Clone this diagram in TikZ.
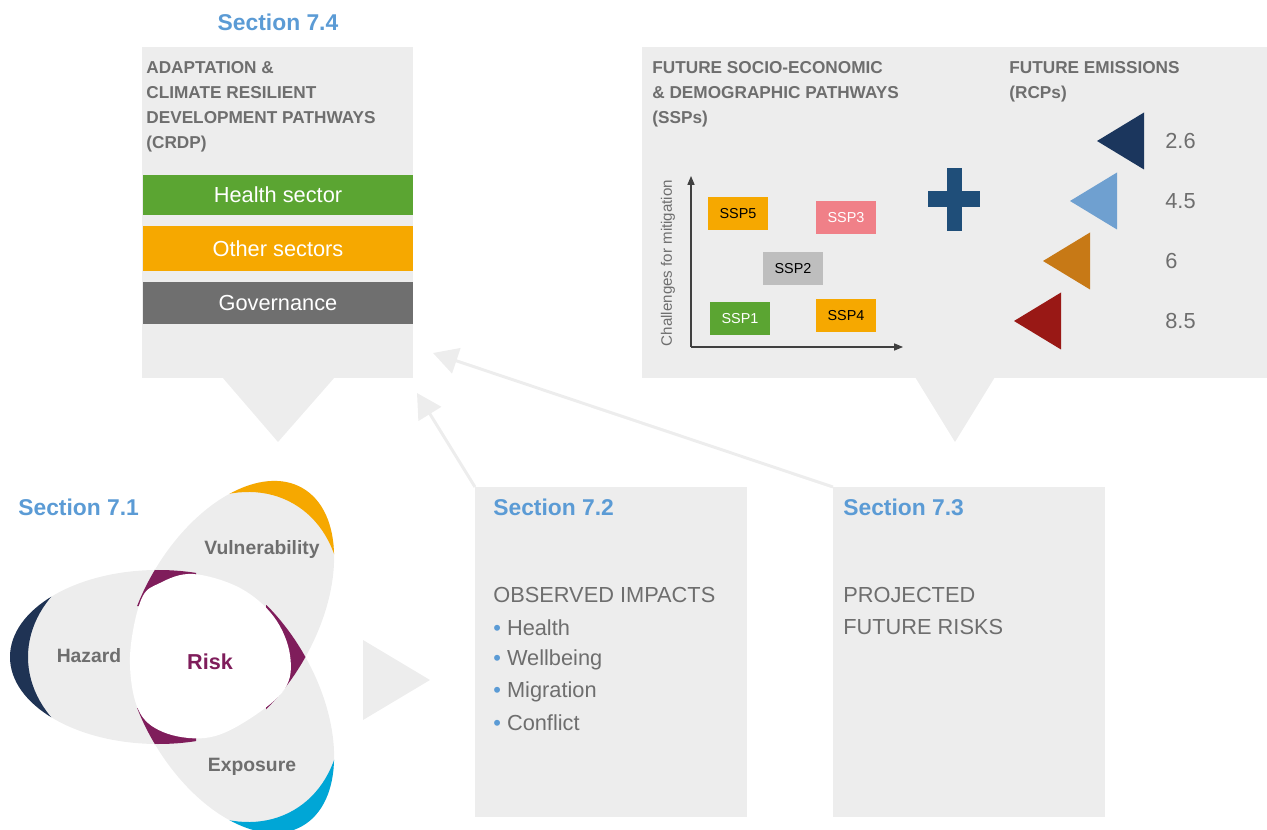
\documentclass[tikz,border=0pt]{standalone}
\usepackage{fontspec}
\setmainfont{Liberation Sans}
\usetikzlibrary{arrows.meta}

\definecolor{boxgray}{HTML}{EDEDED}
\definecolor{secblue}{HTML}{5B9BD5}
\definecolor{txtgray}{HTML}{6E6E6E}
\definecolor{hsgreen}{HTML}{5BA532}
\definecolor{osorange}{HTML}{F6A800}
\definecolor{govgray}{HTML}{6F6F6F}
\definecolor{sspthree}{HTML}{F08088}
\definecolor{ssptwo}{HTML}{BEBEBE}
\definecolor{plusblue}{HTML}{1F4E79}
\definecolor{rcpa}{HTML}{1B365D}
\definecolor{rcpb}{HTML}{6FA0D0}
\definecolor{rcpc}{HTML}{C77916}
\definecolor{rcpd}{HTML}{991815}
\definecolor{hznavy}{HTML}{1F3354}
\definecolor{vlorange}{HTML}{F6A800}
\definecolor{excyan}{HTML}{00A6D6}
\definecolor{riskpurple}{HTML}{7F1D5B}

\tikzset{
  panel/.style={fill=boxgray,inner sep=0pt,anchor=north west},
  secttl/.style={font=\fontsize{13}{15}\selectfont\bfseries,text=secblue,inner sep=0pt},
  caps/.style={font=\fontsize{9.8}{14.2}\selectfont\bfseries,text=txtgray,align=left,inner sep=0pt,anchor=north west},
  bar/.style={minimum width=5.42cm,inner sep=0pt,text=white,font=\fontsize{12.4}{14}\selectfont},
  body/.style={font=\fontsize{12.4}{14}\selectfont,text=txtgray,inner sep=0pt,anchor=west},
  ssp/.style={minimum width=1.2cm,minimum height=0.66cm,inner sep=0pt,font=\fontsize{8.2}{10}\selectfont},
  lobe/.style={font=\fontsize{11}{13}\selectfont\bfseries,text=txtgray,inner sep=0pt},
  flow/.style={draw=boxgray,line width=1.7pt,-{Triangle[length=14pt,width=15pt]}},
  axis/.style={draw=black!75,line width=0.6pt,-{Triangle[length=5pt,width=4pt]}},
  petal/.style={shift={(205,657)},rotate=#1},
}

\begin{document}
\begin{tikzpicture}[x=0.02cm,y=-0.02cm]
\useasboundingbox (0,0) rectangle (1267,830);

\node[panel,minimum width=5.42cm,minimum height=6.62cm] (crdp) at (142,47) {};
\fill[boxgray] (222,377) -- (335,377) -- (278,442) -- cycle;
\node[panel,minimum width=12.5cm,minimum height=6.62cm] (futures) at (642,47) {};
\fill[boxgray] (915,377) -- (995,377) -- (955,442) -- cycle;
\node[panel,minimum width=5.44cm,minimum height=6.6cm] (observed) at (475,487) {};
\node[panel,minimum width=5.44cm,minimum height=6.6cm] (projected) at (833,487) {};
\fill[boxgray] (363,640) -- (363,720) -- (430,680) -- cycle;

\node[secttl] (sec74) at (278,22) {Section 7.4};
\node[secttl,anchor=west] (sec71) at (18,507) {Section 7.1};
\node[secttl,anchor=west] (sec72) at (493,507) {Section 7.2};
\node[secttl,anchor=west] (sec73) at (843,507) {Section 7.3};

\node[caps] (crdptxt) at (146,61) {ADAPTATION \&\\CLIMATE RESILIENT\\DEVELOPMENT PATHWAYS\\(CRDP)};
\node[bar,fill=hsgreen,minimum height=0.8cm] (health) at (278,195) {Health sector};
\node[bar,fill=osorange,minimum height=0.9cm] (other) at (278,248.5) {Other sectors};
\node[bar,fill=govgray,minimum height=0.84cm] (gov) at (278,303) {Governance};

\node[caps] (ssptxt) at (652,61) {FUTURE SOCIO-ECONOMIC\\\& DEMOGRAPHIC PATHWAYS\\(SSPs)};
\node[caps] (rcptxt) at (1009,61) {FUTURE EMISSIONS\\(RCPs)};

\coordinate (origin) at (691,347);
\coordinate (ytop) at (691,176);
\coordinate (xend) at (903,347);
\draw[axis] (origin) -- (ytop);
\draw[axis] (origin) -- (xend);
\node[rotate=90,text=txtgray,font=\fontsize{8.6}{10}\selectfont,inner sep=0pt] (ylab) at (668,263) {Challenges for mitigation};
\node[ssp,fill=osorange] (ssp5) at (738,214) {SSP5};
\node[ssp,fill=sspthree,text=white] (ssp3) at (846,218) {SSP3};
\node[ssp,fill=ssptwo] (ssp2) at (793,269) {SSP2};
\node[ssp,fill=hsgreen,text=white] (ssp1) at (740,319) {SSP1};
\node[ssp,fill=osorange] (ssp4) at (846,316) {SSP4};

\fill[plusblue] (928,191) rectangle (980,207);
\fill[plusblue] (947,168) rectangle (962,231);

\foreach \tip/\y/\col/\val in {1097/141/rcpa/2.6,1070/201/rcpb/4.5,1043/261/rcpc/6,1014/321/rcpd/8.5} {
  \fill[\col] (\tip,\y) -- (\tip+47,\y-28.5) -- (\tip+47,\y+28.5) -- cycle;
  \node[body] at (1165,\y) {\val};
}

\node[body] (obs) at (493,595) {OBSERVED IMPACTS};
\foreach \y/\txt in {628/Health,660/Wellbeing,692/Migration,723/Conflict}
  \node[body] at (493,\y) {\textcolor{secblue}{\textbullet} \txt};
\node[body] (proj1) at (843,595) {PROJECTED};
\node[body] (proj2) at (843,627) {FUTURE RISKS};

\coordinate (crdpin1) at (417,393);
\coordinate (crdpin2) at (433,353);
\draw[flow] (observed.north west) -- (crdpin1);
\draw[flow] (projected.north west) -- (crdpin2);

% hazard, vulnerability, exposure
\foreach \ang in {180,60,-60}
  \fill[boxgray,petal=\ang] (47,0) ellipse [x radius=148,y radius=87];
\foreach \ang/\col in {180/hznavy,60/vlorange,-60/excyan} {
  \begin{scope}[petal=\ang]
    \clip (47,0) ellipse [x radius=148,y radius=87];
    \fill[\col,even odd rule] (-150,-150) rectangle (250,150) (29,0) ellipse [x radius=148,y radius=112];
  \end{scope}
}
\begin{scope}
  \clip (125,558) -- (196,558) -- (196,578) -- (145,606) -- (125,606) -- cycle;
  \clip[petal=180] (47,0) ellipse [x radius=148,y radius=87];
  \fill[riskpurple,petal=60] (47,0) ellipse [x radius=148,y radius=87];
\end{scope}
\begin{scope}
  \clip (266,605) rectangle (330,710);
  \clip[petal=60] (47,0) ellipse [x radius=148,y radius=87];
  \fill[riskpurple,petal=-60] (47,0) ellipse [x radius=148,y radius=87];
\end{scope}
\begin{scope}
  \clip (125,756) -- (196,756) -- (196,736) -- (145,708) -- (125,708) -- cycle;
  \clip[petal=-60] (47,0) ellipse [x radius=148,y radius=87];
  \fill[riskpurple,petal=180] (47,0) ellipse [x radius=148,y radius=87];
\end{scope}
\fill[white] plot[smooth cycle,tension=0.6] coordinates {(193,574) (240,588) (274,617) (290,655) (284,690) (243,723) (205,738) (163,732) (138,709) (130,657) (141,600) (160,583)};

\node[lobe] (hazard) at (89,656) {Hazard};
\node[lobe] (vuln) at (262,550) {Vulnerability};
\node[lobe] (expo) at (252,767) {Exposure};
\node[lobe,text=riskpurple,font=\fontsize{12.3}{14}\selectfont\bfseries] (risk) at (210,662) {Risk};
\end{tikzpicture}
\end{document}
